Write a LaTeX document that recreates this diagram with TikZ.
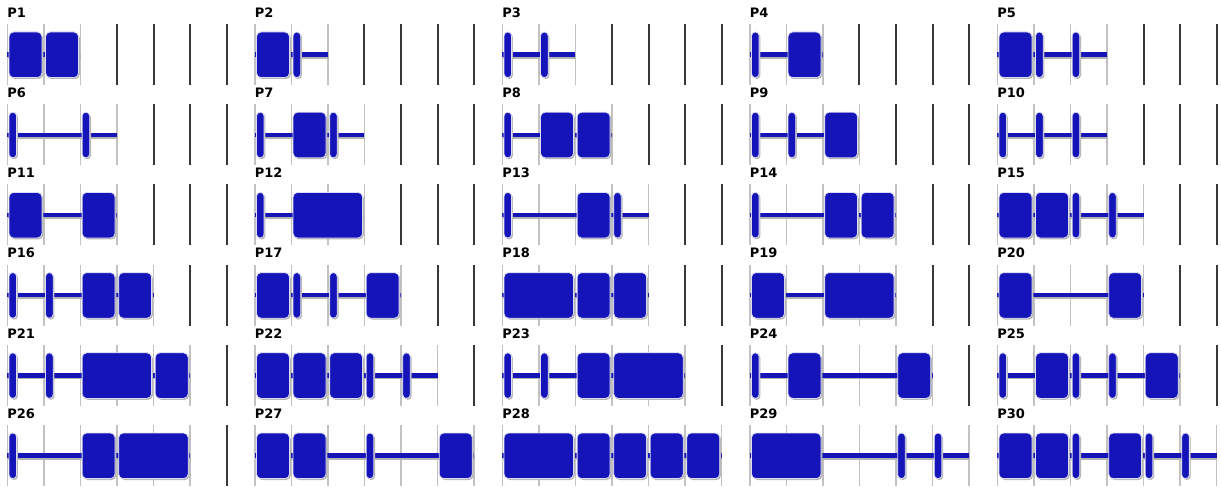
\documentclass[tikz,border=0pt]{standalone}
\usepackage{fontspec}
\setmainfont{DejaVu Sans}
\definecolor{blk}{HTML}{1414B8}
\definecolor{gridlt}{HTML}{C2C2C2}
\definecolor{griddk}{HTML}{383838}
\definecolor{shad}{HTML}{B4B4B4}
\definecolor{halo}{HTML}{DCDCF6}
\tikzset{
  x=1pt, y=-1pt,
  lbl/.style={anchor=base west, inner sep=0pt, font=\fontsize{13}{13}\selectfont\bfseries},
  gridl/.style={draw=gridlt, line width=1.4pt},
  gridd/.style={draw=griddk, line width=2pt},
  bshadow/.style={fill=shad},
  bbody/.style={fill=blk, draw=halo, line width=0.8pt},
  trackshadow/.style={draw=shad, line width=4.5pt},
  track/.style={draw=blk, line width=4.5pt},
}
\newcommand\unitw{36.55}
% rounded box from x1 to x2 with radius r
\newcommand\rboxdraw[3]{%
  \fill[bshadow, rounded corners=#3] ({#1+1.3},33.4) rectangle ({#2+1.3},79.0);
  \filldraw[bbody, rounded corners=#3] ({#1},32) rectangle ({#2},77.6);
}
\newcommand\slotB[1]{\rboxdraw{#1*\unitw+1.7}{(#1+1)*\unitw-1.9}{4.5pt}}
\newcommand\slotW[1]{\rboxdraw{#1*\unitw+1.7}{(#1+2)*\unitw-1.9}{4.5pt}}
\newcommand\slotBar[1]{\rboxdraw{#1*\unitw+1.7}{#1*\unitw+9.3}{3.7pt}}
% col, row, number, N, items
\newcommand\panelpic[5]{%
  \begin{scope}[shift={({7.3+247.5*#1},{80.2*#2})}]
    \node[lbl] (lab#3) at (-0.2,17.3) {P#3};
    \foreach \k in {0,...,6}{%
      \ifnum\k>#4\relax
        \draw[gridd] ({\k*\unitw},24) -- ({\k*\unitw},85);
      \else
        \draw[gridl] ({\k*\unitw},24) -- ({\k*\unitw},85);
      \fi
    }
    \draw[trackshadow] (0.8,56.4) -- ({#4*\unitw+0.8},56.4);
    \draw[track] (0,54.6) -- ({#4*\unitw},54.6);
    #5
  \end{scope}%
}
\begin{document}
\begin{tikzpicture}
\useasboundingbox[fill=white] (0,0) rectangle (1221,487);
% row 0
\panelpic{0}{0}{1}{2}{\slotB{0}\slotB{1}}
\panelpic{1}{0}{2}{2}{\slotB{0}\slotBar{1}}
\panelpic{2}{0}{3}{2}{\slotBar{0}\slotBar{1}}
\panelpic{3}{0}{4}{2}{\slotBar{0}\slotB{1}}
\panelpic{4}{0}{5}{3}{\slotB{0}\slotBar{1}\slotBar{2}}
% row 1
\panelpic{0}{1}{6}{3}{\slotBar{0}\slotBar{2}}
\panelpic{1}{1}{7}{3}{\slotBar{0}\slotB{1}\slotBar{2}}
\panelpic{2}{1}{8}{3}{\slotBar{0}\slotB{1}\slotB{2}}
\panelpic{3}{1}{9}{3}{\slotBar{0}\slotBar{1}\slotB{2}}
\panelpic{4}{1}{10}{3}{\slotBar{0}\slotBar{1}\slotBar{2}}
% row 2
\panelpic{0}{2}{11}{3}{\slotB{0}\slotB{2}}
\panelpic{1}{2}{12}{3}{\slotBar{0}\slotW{1}}
\panelpic{2}{2}{13}{4}{\slotBar{0}\slotB{2}\slotBar{3}}
\panelpic{3}{2}{14}{4}{\slotBar{0}\slotB{2}\slotB{3}}
\panelpic{4}{2}{15}{4}{\slotB{0}\slotB{1}\slotBar{2}\slotBar{3}}
% row 3
\panelpic{0}{3}{16}{4}{\slotBar{0}\slotBar{1}\slotB{2}\slotB{3}}
\panelpic{1}{3}{17}{4}{\slotB{0}\slotBar{1}\slotBar{2}\slotB{3}}
\panelpic{2}{3}{18}{4}{\slotW{0}\slotB{2}\slotB{3}}
\panelpic{3}{3}{19}{4}{\slotB{0}\slotW{2}}
\panelpic{4}{3}{20}{4}{\slotB{0}\slotB{3}}
% row 4
\panelpic{0}{4}{21}{5}{\slotBar{0}\slotBar{1}\slotW{2}\slotB{4}}
\panelpic{1}{4}{22}{5}{\slotB{0}\slotB{1}\slotB{2}\slotBar{3}\slotBar{4}}
\panelpic{2}{4}{23}{5}{\slotBar{0}\slotBar{1}\slotB{2}\slotW{3}}
\panelpic{3}{4}{24}{5}{\slotBar{0}\slotB{1}\slotB{4}}
\panelpic{4}{4}{25}{5}{\slotBar{0}\slotB{1}\slotBar{2}\slotBar{3}\slotB{4}}
% row 5
\panelpic{0}{5}{26}{5}{\slotBar{0}\slotB{2}\slotW{3}}
\panelpic{1}{5}{27}{6}{\slotB{0}\slotB{1}\slotBar{3}\slotB{5}}
\panelpic{2}{5}{28}{6}{\slotW{0}\slotB{2}\slotB{3}\slotB{4}\slotB{5}}
\panelpic{3}{5}{29}{6}{\slotW{0}\slotBar{4}\slotBar{5}}
\panelpic{4}{5}{30}{6}{\slotB{0}\slotB{1}\slotBar{2}\slotB{3}\slotBar{4}\slotBar{5}}
\end{tikzpicture}
\end{document}
